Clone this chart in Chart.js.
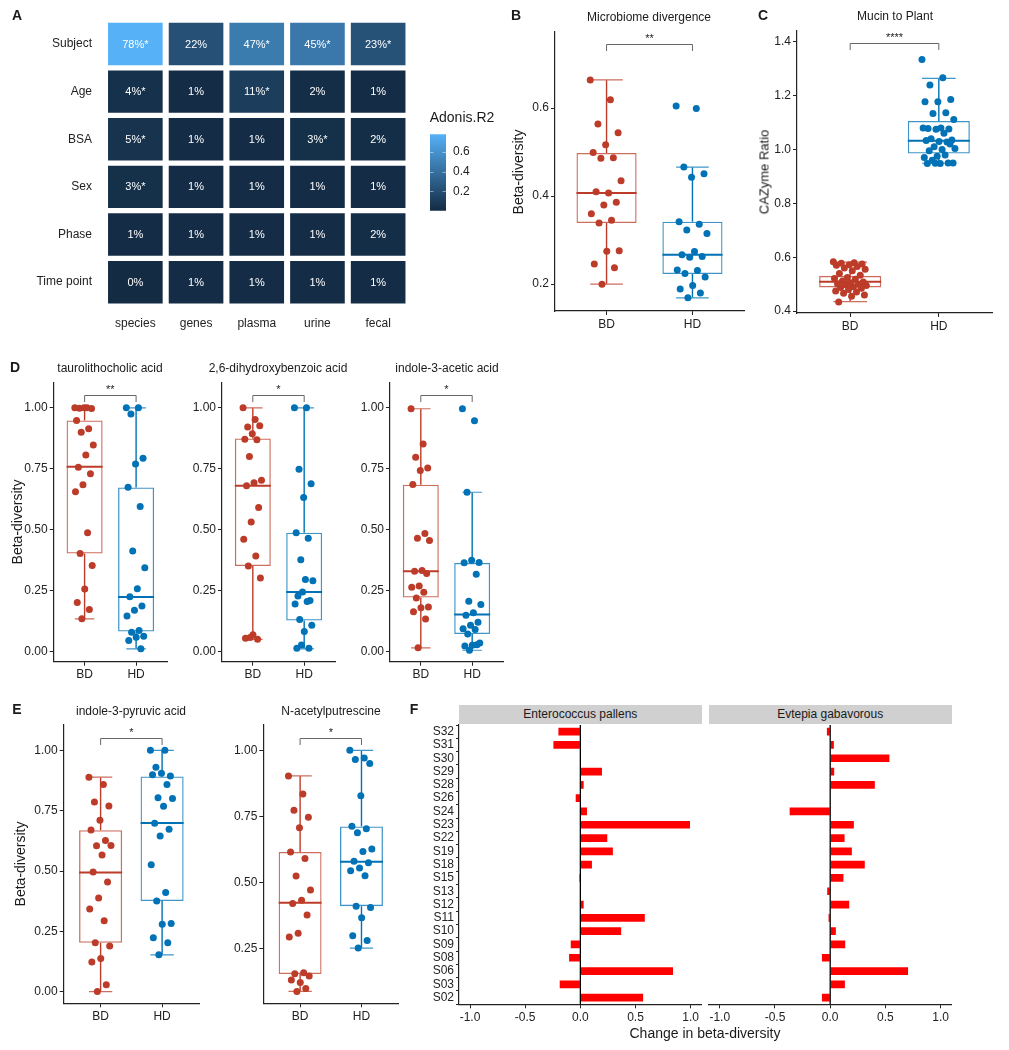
<!DOCTYPE html>
<html>
<head>
<meta charset="utf-8">
<title>Beta-diversity figure</title>
<script src="https://cdn.jsdelivr.net/npm/chart.js@4.4.1/dist/chart.umd.min.js"></script>
<style>
  body { margin: 0; background: #fff; font-family: "Liberation Sans", Arial, sans-serif; }
  #fig { position: relative; width: 1009px; height: 1050px; overflow: hidden; }
  #fig canvas { position: absolute; }
  .t { position: absolute; white-space: nowrap; color: #1a1a1a; line-height: 1; font-weight: normal; transform: translate(-50%, -50%); }
  .t.rot { transform: translate(-50%, -50%) rotate(-90deg); }
  .t.bold { font-weight: bold; }
  .strip { position: absolute; background: #d0d0d0; font-size: 12px; color: #1a1a1a; text-align: center; }
</style>
</head>
<body>
<div id="fig"></div>
<script>
const FONT = '"Liberation Sans", Arial, sans-serif';

// ---------- Panel A: Adonis R2 heatmap ----------
const hmRows = ['Subject', 'Age', 'BSA', 'Sex', 'Phase', 'Time point'];
const hmCols = ['species', 'genes', 'plasma', 'urine', 'fecal'];
const r2Species = [0.78, 0.04, 0.05, 0.03, 0.01, 0.003];
const r2Genes   = [0.22, 0.01, 0.01, 0.01, 0.01, 0.01];
const r2Plasma  = [0.47, 0.11, 0.01, 0.01, 0.01, 0.01];
const r2Urine   = [0.45, 0.02, 0.03, 0.01, 0.01, 0.01];
const r2Fecal   = [0.23, 0.01, 0.02, 0.01, 0.02, 0.01];
const sigSpecies = [1, 1, 1, 1, 0, 0];
const sigGenes   = [0, 0, 0, 0, 0, 0];
const sigPlasma  = [1, 1, 0, 0, 0, 0];
const sigUrine   = [1, 0, 1, 0, 0, 0];
const sigFecal   = [1, 0, 0, 0, 0, 0];
const legendTicks = [0.2, 0.4, 0.6];

// ---------- Panel B: microbiome divergence ----------
const groups = ['BD', 'HD'];
const divBD = [0.664, 0.619, 0.564, 0.544, 0.517, 0.499, 0.487, 0.486, 0.435, 0.407, 0.41, 0.386, 0.38, 0.36, 0.345, 0.339, 0.276, 0.275, 0.246, 0.237, 0.2];
const divHD = [0.605, 0.599, 0.466, 0.451, 0.443, 0.342, 0.336, 0.323, 0.315, 0.274, 0.267, 0.263, 0.261, 0.232, 0.231, 0.224, 0.216, 0.197, 0.189, 0.18, 0.169];
const divBoxBD = [0.2, 0.339, 0.407, 0.498, 0.664];   // lower whisker, q1, median, q3, upper whisker
const divBoxHD = [0.169, 0.223, 0.267, 0.342, 0.466];
const ticksB = [0.2, 0.4, 0.6];

// ---------- Panel C: mucin to plant CAZyme ratio ----------
const cazBD = [0.583, 0.58, 0.578, 0.575, 0.572, 0.57, 0.566, 0.56, 0.555, 0.55, 0.54, 0.533, 0.525, 0.521, 0.518, 0.512, 0.508, 0.505, 0.502, 0.5, 0.498, 0.495, 0.49, 0.488, 0.485, 0.48, 0.475, 0.471, 0.466, 0.46, 0.455, 0.434];
const cazHD = [1.334, 1.266, 1.239, 1.186, 1.177, 1.177, 1.136, 1.134, 1.111, 1.08, 1.078, 1.076, 1.075, 1.08, 1.06, 1.04, 1.035, 1.03, 1.033, 1.028, 1.01, 1.004, 1.0, 0.995, 1.02, 0.975, 0.97, 0.98, 0.96, 0.95, 0.948, 0.948, 0.95, 0.949];
const cazBoxBD = [0.435, 0.488, 0.509, 0.531, 0.582];
const cazBoxHD = [0.949, 0.985, 1.032, 1.106, 1.264];
const ticksC = [0.4, 0.6, 0.8, 1.0, 1.2, 1.4];

// ---------- Panel D: metabolites ----------
const tauroBD = [1.0, 1.0, 0.998, 0.997, 1.0, 0.948, 0.914, 0.899, 0.847, 0.806, 0.756, 0.729, 0.684, 0.655, 0.487, 0.401, 0.352, 0.256, 0.2, 0.171, 0.133];
const tauroHD = [1.0, 1.0, 0.974, 0.793, 0.769, 0.674, 0.594, 0.412, 0.343, 0.257, 0.224, 0.186, 0.168, 0.145, 0.085, 0.078, 0.062, 0.057, 0.044, 0.01];
const tauroBoxBD = [0.133, 0.401, 0.758, 0.948, 1.0];
const tauroBoxHD = [0.01, 0.081, 0.223, 0.673, 1.0];

const dhbBD = [1.0, 0.952, 0.921, 0.926, 0.893, 0.871, 0.869, 0.8, 0.702, 0.692, 0.68, 0.59, 0.531, 0.46, 0.391, 0.35, 0.301, 0.068, 0.053, 0.049, 0.056];
const dhbHD = [1.0, 1.0, 0.748, 0.688, 0.631, 0.487, 0.464, 0.376, 0.289, 0.295, 0.227, 0.208, 0.243, 0.194, 0.204, 0.13, 0.107, 0.081, 0.012, 0.012, 0.026];
const dhbBoxBD = [0.049, 0.35, 0.68, 0.874, 1.0];
const dhbBoxHD = [0.01, 0.126, 0.243, 0.487, 1.0];

const iaaBD = [0.996, 0.851, 0.797, 0.753, 0.742, 0.685, 0.484, 0.464, 0.455, 0.332, 0.329, 0.319, 0.268, 0.263, 0.242, 0.219, 0.182, 0.179, 0.162, 0.132, 0.014];
const iaaHD = [0.996, 0.947, 0.653, 0.364, 0.374, 0.363, 0.316, 0.205, 0.192, 0.158, 0.148, 0.119, 0.107, 0.092, 0.089, 0.071, 0.034, 0.025, 0.021, 0.027, 0.004];
const iaaBoxBD = [0.014, 0.221, 0.329, 0.684, 0.996];
const iaaBoxHD = [0.004, 0.071, 0.151, 0.363, 0.653];
const ticksD = [0, 0.25, 0.5, 0.75, 1.0];

// ---------- Panel E ----------
const ipaBD = [0.889, 0.858, 0.786, 0.769, 0.71, 0.67, 0.627, 0.605, 0.606, 0.566, 0.496, 0.455, 0.388, 0.343, 0.294, 0.203, 0.189, 0.138, 0.123, 0.029, 0.001];
const ipaHD = [1.0, 1.0, 0.93, 0.894, 0.905, 0.899, 0.859, 0.804, 0.8, 0.768, 0.698, 0.673, 0.645, 0.526, 0.411, 0.376, 0.283, 0.279, 0.224, 0.203, 0.153];
const ipaBoxBD = [0.0, 0.203, 0.494, 0.669, 0.889];
const ipaBoxHD = [0.153, 0.376, 0.699, 0.892, 1.0];

const napBD = [0.903, 0.835, 0.773, 0.747, 0.707, 0.615, 0.59, 0.524, 0.471, 0.432, 0.42, 0.376, 0.307, 0.293, 0.158, 0.154, 0.145, 0.121, 0.13, 0.098, 0.087];
const napHD = [1.0, 0.971, 0.965, 0.95, 0.828, 0.713, 0.703, 0.688, 0.626, 0.617, 0.58, 0.574, 0.554, 0.544, 0.525, 0.41, 0.405, 0.366, 0.298, 0.28, 0.251];
const napBoxBD = [0.087, 0.153, 0.423, 0.615, 0.903];
const napBoxHD = [0.251, 0.41, 0.578, 0.712, 1.0];
const ticksE2 = [0.25, 0.5, 0.75, 1.0];

// ---------- Panel F: change in beta-diversity ----------
const fRows = ['S32', 'S31', 'S30', 'S29', 'S28', 'S26', 'S24', 'S23', 'S22', 'S19', 'S18', 'S15', 'S13', 'S12', 'S11', 'S10', 'S09', 'S08', 'S06', 'S03', 'S02'];
const entero = [-0.199, -0.244, 0, 0.196, 0.03, -0.042, 0.06, 0.994, 0.244, 0.295, 0.105, -0.009, 0, 0.03, 0.584, 0.37, -0.087, -0.102, 0.84, -0.187, 0.569];
const evtepia = [-0.03, 0.033, 0.536, 0.036, 0.404, 0, -0.367, 0.214, 0.13, 0.196, 0.313, 0.12, -0.027, 0.172, -0.015, 0.051, 0.136, -0.075, 0.705, 0.133, -0.075];
const ticksF = [-1.0, -0.5, 0.0, 0.5, 1.0];

// ---------- colours ----------
const BD_COL = '#BC3C29', HD_COL = '#0072B5';
const BD_LIGHT = '#CD6D5E', HD_LIGHT = '#4095C8';
const HM_LOW = [19, 43, 67], HM_HIGH = [86, 177, 247];

Chart.defaults.font.family = FONT;
Chart.defaults.color = '#222';

const fig = document.getElementById('fig');

function makeCanvas(left, top, w, h) {
    const c = document.createElement('canvas');
    c.width = w; c.height = h;
    c.style.left = left + 'px'; c.style.top = top + 'px';
    c.style.width = w + 'px'; c.style.height = h + 'px';
    fig.appendChild(c);
    return c;
}

function addText(txt, x, y, size, cls) {
    const d = document.createElement('div');
    d.className = 't' + (cls ? ' ' + cls : '');
    d.textContent = txt;
    d.style.left = x + 'px'; d.style.top = y + 'px';
    d.style.fontSize = size + 'px';
    fig.appendChild(d);
}

// ggplot-like axis pieces
function tickFont() { return { family: FONT, size: 12 }; }
const axisGrid = { display: true, drawOnChartArea: false, drawTicks: true, tickLength: 4, tickColor: '#222', tickWidth: 1 };
const axisBorder = { display: true, color: '#222', width: 1.2 };

// deterministic jitter across the group (±0.19 units)
const jitter = i => (((i * 0.6180339) % 1) - 0.5) * 0.38;

// ---------- heatmap ----------
const hmVals = [r2Species, r2Genes, r2Plasma, r2Urine, r2Fecal];
const hmSig = [sigSpecies, sigGenes, sigPlasma, sigUrine, sigFecal];
const r2Min = Math.min(...hmVals.flat());
const r2Max = Math.max(...hmVals.flat());

function r2Color(v) {
    const t = (v - r2Min) / (r2Max - r2Min);
    const c = HM_LOW.map((lo, k) => Math.round(lo + (HM_HIGH[k] - lo) * t));
    return `rgb(${c.join(',')})`;
}

const cellText = {
    id: 'cellText',
    afterDatasetsDraw(chart) {
        const g = chart.ctx;
        g.save();
        g.fillStyle = '#fff';
        g.font = `11px ${FONT}`;
        g.textAlign = 'center';
        g.textBaseline = 'middle';
        chart.data.datasets.forEach((ds, j) => {
            chart.getDatasetMeta(j).data.forEach((el, i) => {
                g.fillText(ds.cellLabels[i], (el.x + el.base) / 2, el.y + 0.5);
            });
        });
        g.restore();
    }
};

new Chart(makeCanvas(0, 0, 420, 335), {
    type: 'bar',
    data: {
        labels: hmRows,
        datasets: hmVals.map((vals, j) => ({
            data: vals.map(() => [j + 0.05, j + 0.95]),
            backgroundColor: vals.map(r2Color),
            cellLabels: vals.map((v, i) => Math.round(v * 100) + '%' + (hmSig[j][i] ? '*' : '')),
            grouped: false,
            borderWidth: 0,
            categoryPercentage: 1,
            barPercentage: 0.89
        }))
    },
    options: {
        indexAxis: 'y',
        responsive: false,
        animation: false,
        events: [],
        layout: { padding: { top: 16, right: 11.5, left: 0, bottom: 0 } },
        plugins: { legend: { display: false }, tooltip: { enabled: false } },
        scales: {
            x: {
                type: 'linear', min: 0, max: 5,
                grid: { display: false, drawTicks: false },
                border: { display: false },
                afterBuildTicks: s => { s.ticks = hmCols.map((_, j) => ({ value: j + 0.5 })); },
                ticks: { callback: (v, i) => hmCols[i], font: tickFont(), color: '#222', padding: 10, autoSkip: false, maxRotation: 0 },
                afterFit: s => { s.height = 29; }
            },
            y: {
                type: 'category',
                grid: { display: false, drawTicks: false },
                border: { display: false },
                ticks: { font: tickFont(), color: '#222', padding: 13 },
                afterFit: s => { s.width = 105; }
            }
        }
    },
    plugins: [cellText]
});

// colour bar legend
const barTicks = {
    id: 'barTicks',
    afterDatasetsDraw(chart) {
        const { y } = chart.scales, a = chart.chartArea, g = chart.ctx;
        g.save();
        g.strokeStyle = 'rgba(255,255,255,0.45)';
        g.lineWidth = 1;
        legendTicks.forEach(t => {
            const py = Math.round(y.getPixelForValue(t)) + 0.5;
            g.beginPath();
            g.moveTo(a.left, py); g.lineTo(a.left + 3.5, py);
            g.moveTo(a.right - 3.5, py); g.lineTo(a.right, py);
            g.stroke();
        });
        g.restore();
    }
};

new Chart(makeCanvas(420, 120, 80, 105), {
    type: 'bar',
    data: {
        labels: ['Adonis.R2'],
        datasets: [{
            data: [[r2Min, r2Max]],
            backgroundColor: c => {
                const ch = c.chart;
                if (!ch.chartArea) return r2Color(r2Max);
                const ys = ch.scales.y;
                const grad = ch.ctx.createLinearGradient(0, ys.getPixelForValue(r2Min), 0, ys.getPixelForValue(r2Max));
                grad.addColorStop(0, r2Color(r2Min));
                grad.addColorStop(1, r2Color(r2Max));
                return grad;
            },
            borderWidth: 0,
            categoryPercentage: 1,
            barPercentage: 1
        }]
    },
    options: {
        responsive: false,
        animation: false,
        events: [],
        layout: { padding: { top: 11.7, bottom: 11.7, left: 10, right: 0 } },
        plugins: { legend: { display: false }, tooltip: { enabled: false } },
        scales: {
            x: { display: false },
            y: {
                position: 'right',
                min: r2Min, max: r2Max,
                grid: { display: false, drawTicks: false },
                border: { display: false },
                afterBuildTicks: s => { s.ticks = legendTicks.map(v => ({ value: v })); },
                ticks: { callback: v => v.toFixed(1), font: tickFont(), color: '#222', padding: 7 },
                afterFit: s => { s.width = 54; }
            }
        }
    },
    plugins: [barTicks]
});

// ---------- box plots ----------
const boxPlugin = {
    id: 'boxExtras',
    afterDatasetDraw(chart, args, o) {
        if (args.index !== 2) return;
        const { x, y } = chart.scales;
        const g = chart.ctx;
        const unit = x.getPixelForValue(2) - x.getPixelForValue(1);
        g.save();
        o.boxes.forEach((b, k) => {
            const cx = x.getPixelForValue(k + 1);
            const [lo, q1, med, q3, hi] = b.map(v => y.getPixelForValue(v));
            // whiskers
            g.strokeStyle = o.dark[k];
            g.lineWidth = 1.4;
            g.beginPath();
            g.moveTo(cx, lo); g.lineTo(cx, q1);
            g.moveTo(cx, q3); g.lineTo(cx, hi);
            g.stroke();
            // caps
            g.strokeStyle = o.light[k];
            g.lineWidth = 1.2;
            g.beginPath();
            g.moveTo(cx - 0.19 * unit, lo); g.lineTo(cx + 0.19 * unit, lo);
            g.moveTo(cx - 0.19 * unit, hi); g.lineTo(cx + 0.19 * unit, hi);
            g.stroke();
            // median
            g.strokeStyle = o.dark[k];
            g.lineWidth = 2;
            g.beginPath();
            g.moveTo(cx - 0.35 * unit, med); g.lineTo(cx + 0.35 * unit, med);
            g.stroke();
        });
        g.restore();
    },
    afterDatasetsDraw(chart, args, o) {
        // significance bracket
        const { x, y } = chart.scales;
        const g = chart.ctx;
        const x1 = x.getPixelForValue(1), x2 = x.getPixelForValue(2);
        const yb = Math.round(y.getPixelForValue(o.bracket)) + 0.5;
        g.save();
        g.strokeStyle = '#666';
        g.lineWidth = 1;
        g.beginPath();
        g.moveTo(x1, yb + 6.5); g.lineTo(x1, yb); g.lineTo(x2, yb); g.lineTo(x2, yb + 6.5);
        g.stroke();
        g.fillStyle = '#222';
        g.font = `11px ${FONT}`;
        g.textAlign = 'center';
        g.textBaseline = 'alphabetic';
        g.fillText(o.stars, (x1 + x2) / 2, yb - 3);
        g.restore();
    }
};

function boxPanel(p) {
    const left = Math.floor(p.x0) - 50, top = Math.floor(p.y0) - 14;
    const w = Math.ceil(p.x1) + 6 - left, h = Math.ceil(p.y1) + 26 - top;
    const scatter = (vals, gx, col) => ({
        type: 'scatter',
        data: vals.map((v, i) => ({ x: gx + jitter(i), y: v })),
        backgroundColor: col,
        borderWidth: 0,
        pointRadius: 3.5
    });
    new Chart(makeCanvas(left, top, w, h), {
        type: 'bar',
        data: {
            datasets: [
                scatter(p.bd, 1, BD_COL),
                scatter(p.hd, 2, HD_COL),
                {
                    type: 'bar',
                    data: [{ x: 1, y: [p.boxBD[1], p.boxBD[3]] }, { x: 2, y: [p.boxHD[1], p.boxHD[3]] }],
                    backgroundColor: 'rgba(255,255,255,0)',
                    borderColor: [BD_LIGHT, HD_LIGHT],
                    borderWidth: 1.3,
                    borderSkipped: false,
                    categoryPercentage: 1,
                    barPercentage: 0.7
                }
            ]
        },
        options: {
            responsive: false,
            animation: false,
            events: [],
            layout: { padding: { top: p.y0 - top, right: left + w - p.x1, left: 0, bottom: 0 } },
            plugins: {
                legend: { display: false },
                tooltip: { enabled: false },
                boxExtras: { boxes: [p.boxBD, p.boxHD], dark: [BD_COL, HD_COL], light: [BD_LIGHT, HD_LIGHT], bracket: p.bracket, stars: p.stars }
            },
            scales: {
                x: {
                    type: 'linear', min: 0.4, max: 2.6, offset: false,
                    grid: Object.assign({}, axisGrid, { offset: false }),
                    border: axisBorder,
                    afterBuildTicks: s => { s.ticks = [{ value: 1 }, { value: 2 }]; },
                    ticks: { callback: v => groups[Math.round(v) - 1], font: tickFont(), color: '#222', padding: 2, autoSkip: false, maxRotation: 0 },
                    afterFit: s => { s.height = top + h - p.y1; }
                },
                y: {
                    type: 'linear', min: p.yMin, max: p.yMax, beginAtZero: false,
                    grid: axisGrid,
                    border: axisBorder,
                    afterBuildTicks: s => { s.ticks = p.ticks.map(v => ({ value: v })); },
                    ticks: { callback: v => v.toFixed(p.dec), font: tickFont(), color: '#222', padding: 2 },
                    afterFit: s => { s.width = p.x0 - left; }
                }
            }
        },
        plugins: [boxPlugin]
    });
}

boxPanel({ x0: 555, x1: 744, y0: 32, y1: 311, yMin: 0.139, yMax: 0.773, ticks: ticksB, dec: 1,
    bd: divBD, hd: divHD, boxBD: divBoxBD, boxHD: divBoxHD, bracket: 0.745, stars: '**' });
boxPanel({ x0: 797, x1: 992, y0: 30.7, y1: 313, yMin: 0.393, yMax: 1.441, ticks: ticksC, dec: 1,
    bd: cazBD, hd: cazHD, boxBD: cazBoxBD, boxHD: cazBoxHD, bracket: 1.397, stars: '****' });

boxPanel({ x0: 53.7, x1: 167, y0: 382.7, y1: 661.7, yMin: -0.043, yMax: 1.103, ticks: ticksD, dec: 2,
    bd: tauroBD, hd: tauroHD, boxBD: tauroBoxBD, boxHD: tauroBoxHD, bracket: 1.052, stars: '**' });
boxPanel({ x0: 222, x1: 335, y0: 382.7, y1: 661.7, yMin: -0.043, yMax: 1.103, ticks: ticksD, dec: 2,
    bd: dhbBD, hd: dhbHD, boxBD: dhbBoxBD, boxHD: dhbBoxHD, bracket: 1.052, stars: '*' });
boxPanel({ x0: 390, x1: 503, y0: 382.7, y1: 661.7, yMin: -0.043, yMax: 1.103, ticks: ticksD, dec: 2,
    bd: iaaBD, hd: iaaHD, boxBD: iaaBoxBD, boxHD: iaaBoxHD, bracket: 1.052, stars: '*' });

boxPanel({ x0: 63.7, x1: 199, y0: 725, y1: 1003.3, yMin: -0.048, yMax: 1.105, ticks: ticksD, dec: 2,
    bd: ipaBD, hd: ipaHD, boxBD: ipaBoxBD, boxHD: ipaBoxHD, bracket: 1.052, stars: '*' });
boxPanel({ x0: 263.3, x1: 398.3, y0: 725, y1: 1003.3, yMin: 0.042, yMax: 1.096, ticks: ticksE2, dec: 2,
    bd: napBD, hd: napHD, boxBD: napBoxBD, boxHD: napBoxHD, bracket: 1.048, stars: '*' });

// ---------- panel F: facetted horizontal bars ----------
const zeroLine = {
    id: 'zeroLine',
    afterDatasetsDraw(chart) {
        const { x } = chart.scales, a = chart.chartArea, g = chart.ctx;
        const px = x.getPixelForValue(0);
        g.save();
        g.strokeStyle = '#000';
        g.lineWidth = 1.3;
        g.beginPath();
        g.moveTo(px, a.top); g.lineTo(px, a.bottom);
        g.stroke();
        g.restore();
    }
};

function fPanel(left, x0, x1, vals, showY) {
    const top = 715, bottom = 1026, yTop = 725, yBottom = 1004.3;
    const w = Math.ceil(x1) + 8 - left;
    new Chart(makeCanvas(left, top, w, bottom - top), {
        type: 'bar',
        data: {
            labels: fRows,
            datasets: [{ data: vals, backgroundColor: '#FF0000', borderWidth: 0, categoryPercentage: 1, barPercentage: 0.58 }]
        },
        options: {
            indexAxis: 'y',
            responsive: false,
            animation: false,
            events: [],
            layout: { padding: { top: yTop - top, right: left + w - x1, left: 0, bottom: 0 } },
            plugins: { legend: { display: false }, tooltip: { enabled: false } },
            scales: {
                x: {
                    type: 'linear', min: -1.1, max: 1.1,
                    grid: axisGrid,
                    border: axisBorder,
                    afterBuildTicks: s => { s.ticks = ticksF.map(v => ({ value: v })); },
                    ticks: { callback: v => v.toFixed(1), font: tickFont(), color: '#222', padding: 2, autoSkip: false, maxRotation: 0 },
                    afterFit: s => { s.height = bottom - yBottom; }
                },
                y: {
                    type: 'category', offset: true, display: showY,
                    grid: Object.assign({}, axisGrid, { tickLength: 3 }),
                    border: axisBorder,
                    ticks: { font: tickFont(), color: '#222', padding: 2, autoSkip: false },
                    // the hidden facet still reserves the gap up to its panel edge
                    afterFit: s => { s.width = x0 - left; }
                }
            }
        },
        plugins: [zeroLine]
    });
}

fPanel(420, 459, 701.7, entero, true);
fPanel(690, 708.7, 951.7, evtepia, false);

function addStrip(txt, x0, x1) {
    const d = document.createElement('div');
    d.className = 'strip';
    d.textContent = txt;
    d.style.left = x0 + 'px'; d.style.top = '705px';
    d.style.width = (x1 - x0) + 'px'; d.style.height = '19.3px';
    d.style.lineHeight = '19.3px';
    fig.appendChild(d);
}
addStrip('Enterococcus pallens', 459, 701.7);
addStrip('Evtepia gabavorous', 708.7, 951.7);

// ---------- texts ----------
addText('A', 17, 15, 14, 'bold');
addText('B', 516, 15, 14, 'bold');
addText('C', 763, 15, 14, 'bold');
addText('D', 15, 367, 14, 'bold');
addText('E', 17, 709, 14, 'bold');
addText('F', 414, 709, 14, 'bold');

addText('Adonis.R2', 462, 117, 14);
addText('Microbiome divergence', 649, 17, 12);
addText('Mucin to Plant', 895, 16, 12);
addText('taurolithocholic acid', 110, 368, 12);
addText('2,6-dihydroxybenzoic acid', 278, 368, 12);
addText('indole-3-acetic acid', 447, 368, 12);
addText('indole-3-pyruvic acid', 131, 711, 12);
addText('N-acetylputrescine', 331, 711, 12);

addText('Beta-diversity', 518, 172, 14, 'rot');
addText('CAZyme Ratio', 764, 172, 13, 'rot');
addText('Beta-diversity', 17, 522, 14, 'rot');
addText('Beta-diversity', 20, 864, 14, 'rot');
addText('Change in beta-diversity', 705, 1033, 14);
</script>
</body>
</html>
